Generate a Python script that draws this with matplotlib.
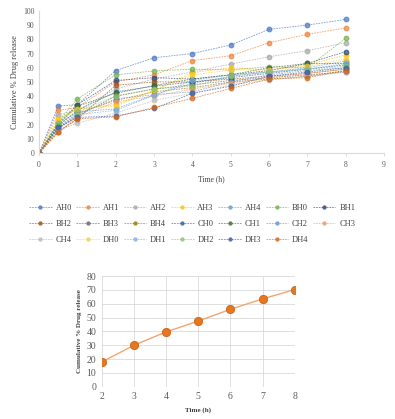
import matplotlib
matplotlib.use("Agg")
import matplotlib.pyplot as plt

plt.rcParams["font.family"] = ["Liberation Serif", "DejaVu Serif"]

# time points (h) for the formulation release profiles
time_h = [0, 0.5, 1, 2, 3, 4, 5, 6, 7, 8]

names = ["AH0", "AH1", "AH2", "AH3", "AH4", "BH0", "BH1", "BH2", "BH3", "BH4",
         "CH0", "CH1", "CH2", "CH3", "CH4", "DH0", "DH1", "DH2", "DH3", "DH4"]

colors = ["#4472C4", "#ED7D31", "#A5A5A5", "#FFC000", "#5B9BD5", "#70AD47",
          "#264478", "#9E480E", "#636363", "#997300", "#255E91", "#43682B",
          "#698ED0", "#F1975A", "#B7B7B7", "#FFCD33", "#7CAFDD", "#8CC168",
          "#335AA1", "#D26012"]

release = [
    [0, 33, 34, 58, 67, 70, 76, 87, 90, 94],      # AH0
    [0, 30, 32, 50, 55, 65, 68.5, 77.6, 83.5, 88],  # AH1
    [0, 27, 30, 45, 52, 57, 62.5, 67.7, 72, 77.6],  # AH2
    [0, 24, 31, 34, 44, 56.5, 60, 58.4, 62, 69],  # AH3
    [0, 20, 29, 31, 41, 49, 54, 57, 60, 64.7],    # AH4
    [0, 22, 38, 55, 57.7, 59, 58.5, 60.7, 60, 80.7],  # BH0
    [0, 21, 34, 51, 53, 52, 55, 58, 63, 71.3],    # BH1
    [0, 15, 24, 47.6, 50, 50, 52, 54, 56, 59],    # BH2
    [0, 17, 26, 40, 45, 48, 51, 53, 55, 57],      # BH3
    [0, 18, 28, 37, 43, 46, 50, 52, 54, 58],      # BH4
    [0, 19, 30, 43, 47, 50, 53, 56, 59, 62],      # CH0
    [0, 20, 33, 42, 47.5, 52, 55, 60, 63, 63],    # CH1
    [0, 17, 27, 38, 41, 43, 50, 55, 58, 60],      # CH2
    [0, 15, 25, 36, 40, 45, 49, 53, 56, 59],      # CH3
    [0, 16, 21, 28, 37, 42, 48, 51.3, 54, 56.8],  # CH4
    [0, 23, 31, 33, 44, 55, 58.4, 58.4, 61, 66],  # DH0
    [0, 18, 27, 30, 40.5, 51, 55, 57, 59, 63],    # DH1
    [0, 21, 29, 40, 45, 47, 54, 57, 59, 61],      # DH2
    [0, 18, 25, 26, 31.3, 42, 47, 54, 57, 60],    # DH3
    [0, 14.8, 24, 25.4, 32, 38.4, 45.4, 52, 53, 58],  # DH4
]

# lower chart: single release profile
time2 = [2, 3, 4, 5, 6, 7, 8]
release2 = [18, 30, 39.7, 47.5, 56, 63.5, 70.3]

fig = plt.figure(figsize=(3.95, 4.19), dpi=100)

# ---- top chart ----
ax = fig.add_axes([0.099, 0.635, 0.873, 0.339])
lines = []
for name, col, vals in zip(names, colors, release):
    ln, = ax.plot(time_h, vals, linestyle=(0, (2, 1.2)), linewidth=0.6, color=col,
                  alpha=0.7, marker="o", markersize=3.4, markerfacecolor=col,
                  markeredgecolor=col, markeredgewidth=0.8, label=name)
    lines.append(ln)

ax.set_xlim(0, 9)
ax.set_ylim(0, 100)
ax.set_xticks(range(0, 10))
ax.set_yticks(range(0, 101, 10))
ax.tick_params(axis="both", labelsize=5.5, colors="#595959")
ax.tick_params(axis="x", length=2.5, width=0.6, color="#D9D9D9")
ax.tick_params(axis="y", length=0)
for s in ["top", "right"]:
    ax.spines[s].set_visible(False)
ax.spines["left"].set_color("#D9D9D9")
ax.spines["bottom"].set_color("#D9D9D9")
ax.set_xlabel("Time (h)", fontsize=5.5, color="#404040", labelpad=4)
ax.set_ylabel("Cumulative % Drug release", fontsize=6, color="#404040", labelpad=3)

# legend fills row by row in the reference, matplotlib fills by column
ncol = 7
order = []
for j in range(ncol):
    for r in range(3):
        k = r * ncol + j
        if k < len(names):
            order.append(k)
leg = fig.legend([lines[k] for k in order], [names[k] for k in order],
                 loc="upper left", bbox_to_anchor=(0.055, 0.532), ncol=ncol,
                 fontsize=6, frameon=False, handlelength=2.7,
                 handletextpad=0.45, columnspacing=0.55, labelspacing=1.0,
                 markerscale=0.7)
for t in leg.get_texts():
    t.set_color("#404040")

# ---- bottom chart ----
ax2 = fig.add_axes([0.258, 0.077, 0.488, 0.264])
ax2.plot(time2, release2, color="#F4A46F", linewidth=1.0, marker="o",
         markersize=6, markerfacecolor="#E8761E", markeredgecolor="#C55A11",
         markeredgewidth=0.5)
ax2.set_xlim(2, 8)
ax2.set_ylim(0, 80)
ax2.set_xticks(time2)
ax2.set_yticks(range(0, 81, 10))
ax2.grid(True, color="#D9D9D9", linewidth=0.6)
ax2.set_axisbelow(True)
for s in ax2.spines.values():
    s.set_visible(False)
ax2.tick_params(axis="both", length=0, labelsize=7, colors="#595959", pad=4)
ax2.set_xlabel("Time (h)", fontsize=5, fontweight="bold", color="#404040", labelpad=4)
ax2.set_ylabel("Cumulative % Drug release", fontsize=5, fontweight="bold",
               color="#404040", labelpad=3)

fig.savefig("out.png", dpi=100)
